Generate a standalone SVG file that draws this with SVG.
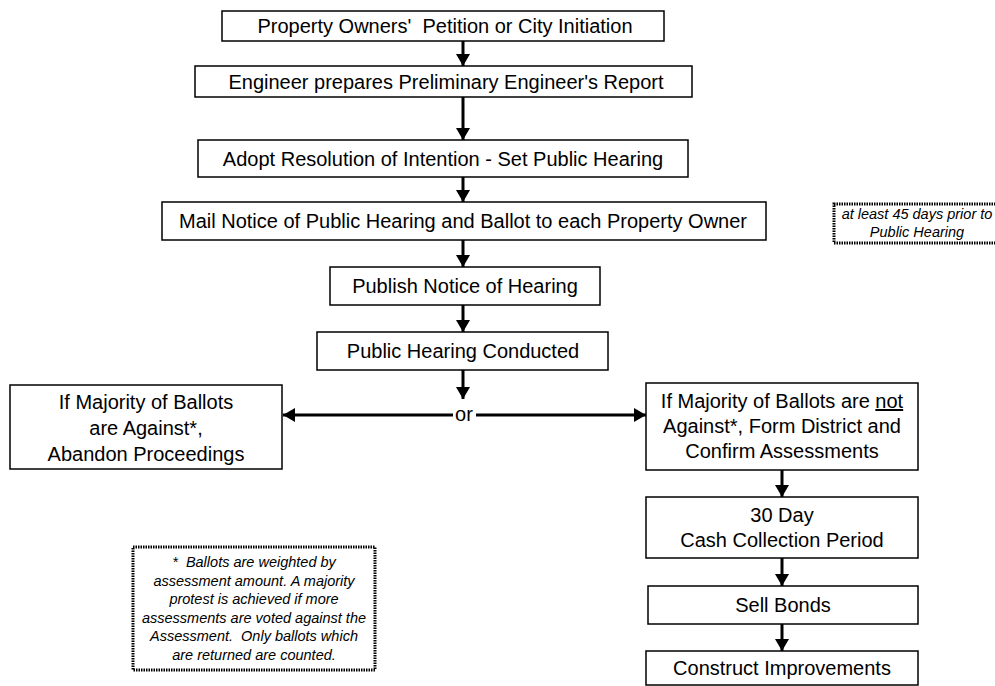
<svg xmlns="http://www.w3.org/2000/svg" width="995" height="686" viewBox="0 0 995 686">
<style>
.box{fill:#fff;stroke:#000;stroke-width:1.5}
.note{fill:#fff;stroke:#000;stroke-width:3;stroke-dasharray:1.5 1}
.t{font-family:"Liberation Sans",Arial,sans-serif;font-size:20px;fill:#000;text-anchor:middle}
.n{font-family:"Liberation Sans",Arial,sans-serif;font-size:14.5px;font-style:italic;fill:#000;text-anchor:middle}
.c{stroke:#000;stroke-width:3;fill:none}
</style>
<defs>
<marker id="ah" markerUnits="userSpaceOnUse" markerWidth="14" markerHeight="14" viewBox="0 0 12 14" refX="12" refY="7" orient="auto">
<path d="M0,0 L12,7 L0,14 Z" fill="#000"/>
</marker>
</defs>
<g id="connectors">
<line class="c" x1="463" y1="41" x2="463" y2="66" marker-end="url(#ah)"/>
<line class="c" x1="463" y1="97" x2="463" y2="140" marker-end="url(#ah)"/>
<line class="c" x1="463" y1="177" x2="463" y2="202" marker-end="url(#ah)"/>
<line class="c" x1="463" y1="240" x2="463" y2="267" marker-end="url(#ah)"/>
<line class="c" x1="463" y1="305" x2="463" y2="332" marker-end="url(#ah)"/>
<line class="c" x1="463" y1="370" x2="463" y2="399" marker-end="url(#ah)"/>
<line class="c" x1="453" y1="415" x2="283" y2="415" marker-end="url(#ah)"/>
<line class="c" x1="476" y1="415" x2="646" y2="415" marker-end="url(#ah)"/>
<line class="c" x1="782" y1="470" x2="782" y2="497" marker-end="url(#ah)"/>
<line class="c" x1="782" y1="558" x2="782" y2="586" marker-end="url(#ah)"/>
<line class="c" x1="782" y1="624" x2="782" y2="651" marker-end="url(#ah)"/>
<text class="t" x="464" y="421">or</text>
</g>
<g id="n1"><rect class="box" x="222" y="11" width="442" height="30"/><text class="t" x="445" y="33" xml:space="preserve">Property Owners'  Petition or City Initiation</text></g>
<g id="n2"><rect class="box" x="195" y="66" width="497" height="31"/><text class="t" x="446" y="88.5">Engineer prepares Preliminary Engineer's Report</text></g>
<g id="n3"><rect class="box" x="198" y="140" width="490" height="37"/><text class="t" x="443" y="165.5">Adopt Resolution of Intention - Set Public Hearing</text></g>
<g id="n4"><rect class="box" x="162" y="202" width="604" height="38"/><text class="t" x="463" y="228">Mail Notice of Public Hearing and Ballot to each Property Owner</text></g>
<g id="n5"><rect class="box" x="330" y="267" width="270" height="38"/><text class="t" x="465" y="293">Publish Notice of Hearing</text></g>
<g id="n6"><rect class="box" x="317" y="332" width="291" height="38"/><text class="t" x="463" y="358">Public Hearing Conducted</text></g>
<g id="n7"><rect class="box" x="10" y="385" width="272" height="84"/>
<text class="t" x="146" y="409">If Majority of Ballots</text>
<text class="t" x="146" y="435">are Against*,</text>
<text class="t" x="146" y="461">Abandon Proceedings</text></g>
<g id="n8"><rect class="box" x="646" y="383" width="272" height="87"/>
<text class="t" x="782" y="408">If Majority of Ballots are <tspan text-decoration="underline">not</tspan></text>
<text class="t" x="782" y="433">Against*, Form District and</text>
<text class="t" x="782" y="458">Confirm Assessments</text></g>
<g id="n9"><rect class="box" x="646" y="497" width="272" height="61"/>
<text class="t" x="782" y="522">30 Day</text>
<text class="t" x="782" y="547">Cash Collection Period</text></g>
<g id="n10"><rect class="box" x="648" y="586" width="270" height="38"/><text class="t" x="783" y="612">Sell Bonds</text></g>
<g id="n11"><rect class="box" x="646" y="651" width="272" height="34"/><text class="t" x="782" y="675">Construct Improvements</text></g>
<g id="note1"><rect class="note" x="834" y="204" width="170" height="39"/>
<text class="n" x="917" y="219">at least 45 days prior to</text>
<text class="n" x="917" y="237">Public Hearing</text></g>
<g id="note2"><rect class="note" x="133" y="547" width="242" height="123"/>
<text class="n" x="254" y="567" xml:space="preserve">*  Ballots are weighted by</text>
<text class="n" x="254" y="585.5">assessment amount. A majority</text>
<text class="n" x="254" y="604">protest is achieved if more</text>
<text class="n" x="254" y="622.5">assessments are voted against the</text>
<text class="n" x="254" y="641" xml:space="preserve">Assessment.  Only ballots which</text>
<text class="n" x="254" y="659.5">are returned are counted.</text></g>
</svg>
